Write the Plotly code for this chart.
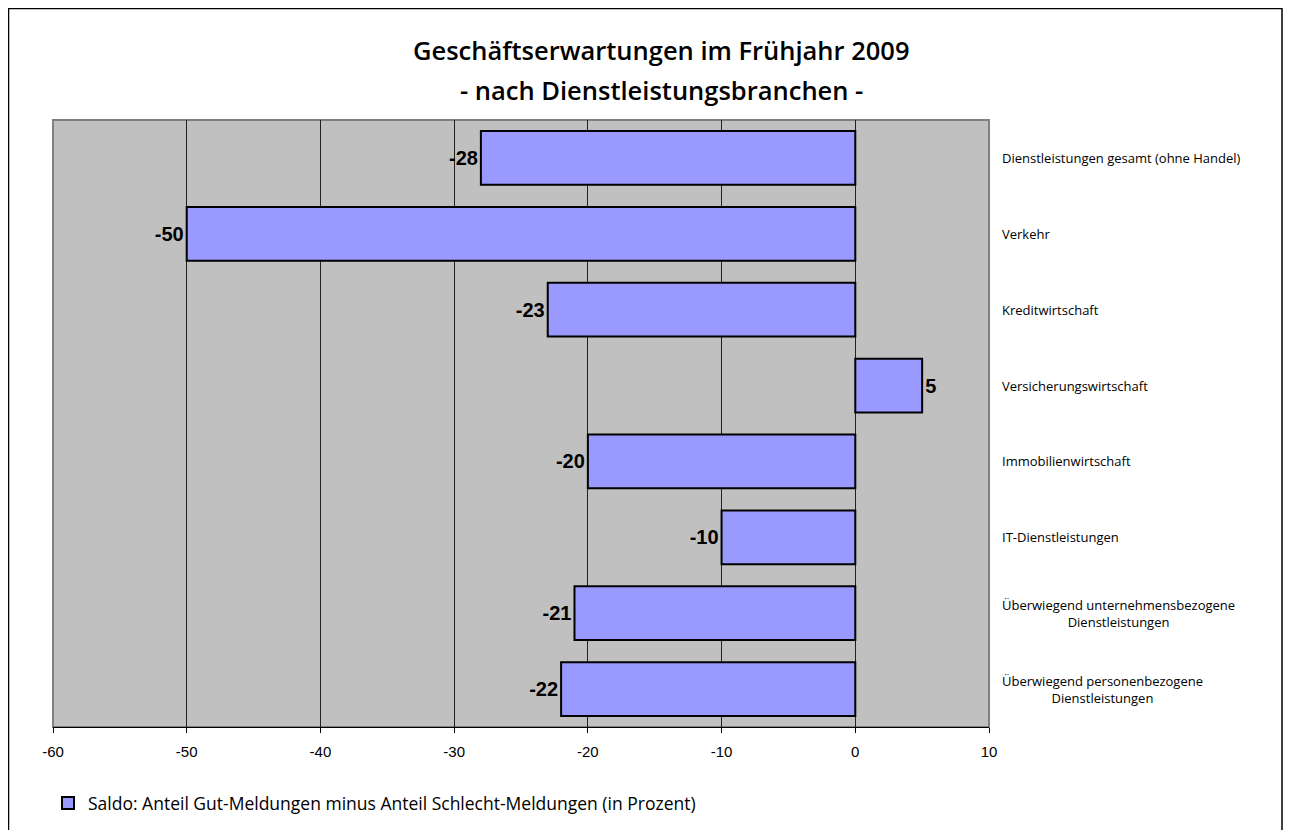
import plotly.graph_objects as go

categories = [
    "Dienstleistungen gesamt (ohne Handel)",
    "Verkehr",
    "Kreditwirtschaft",
    "Versicherungswirtschaft",
    "Immobilienwirtschaft",
    "IT-Dienstleistungen",
    "Überwiegend unternehmensbezogene<br>Dienstleistungen",
    "Überwiegend personenbezogene<br>Dienstleistungen",
]
values = [-28, -50, -23, 5, -20, -10, -21, -22]
x_ticks = [-60, -50, -40, -30, -20, -10, 0, 10]
series_name = "Saldo: Anteil Gut-Meldungen minus Anteil Schlecht-Meldungen (in Prozent)"
title_line1 = "Geschäftserwartungen im Frühjahr 2009"
title_line2 = "- nach Dienstleistungsbranchen -"

# figure coordinates (page body adds an 8px offset)
W, H = 1283, 822
L, R, T, B = 45, 981, 112, 719
pw, ph = R - L, B - T

def px(x):
    return (x - L) / pw

def py(y):
    return (B - y) / ph

fig = go.Figure()
fig.add_trace(go.Bar(
    x=values, y=categories, orientation="h", name=series_name,
    marker=dict(color="#9999FF", line=dict(color="black", width=2)),
    text=[str(v) for v in values], textposition="outside",
    textfont=dict(family="Liberation Sans, Arial", size=20, color="black"),
    texttemplate="<b>%{text}</b>", cliponaxis=False,
))

annotations = [
    dict(text=title_line1, x=px(653), y=py(42), xref="paper", yref="paper",
         showarrow=False, xanchor="center", yanchor="middle",
         font=dict(family="Open Sans", size=25.5, weight=600, color="black")),
    dict(text=title_line2, x=px(653), y=py(82), xref="paper", yref="paper",
         showarrow=False, xanchor="center", yanchor="middle",
         font=dict(family="Open Sans", size=25.5, weight=600, color="black")),
]
for c in categories:
    annotations.append(dict(text=c, x=px(992), y=c, xref="paper", yref="y",
                            showarrow=False, xanchor="left", yanchor="middle", align="center",
                            font=dict(family="Open Sans", size=13, color="black")))

shapes = [
    dict(type="rect", xref="paper", yref="paper", x0=px(0.5), x1=px(1274), y0=py(845), y1=py(0.5),
         line=dict(color="black", width=1.5), fillcolor="rgba(0,0,0,0)", layer="below"),
    dict(type="rect", xref="paper", yref="paper", x0=0, x1=1, y0=0, y1=1,
         line=dict(color="#808080", width=2), fillcolor="rgba(0,0,0,0)", layer="below"),
]

fig.update_layout(
    width=W, height=H,
    margin=dict(l=L, r=W - R, t=T, b=H - B, autoexpand=False),
    paper_bgcolor="white", plot_bgcolor="#C0C0C0",
    bargap=0.29,
    showlegend=True,
    legend=dict(orientation="h", x=px(40), y=py(795), xanchor="left", yanchor="middle",
                font=dict(family="Open Sans", size=17.5, color="black"),
                bgcolor="rgba(0,0,0,0)", itemwidth=30),
    annotations=annotations,
    shapes=shapes,
    xaxis=dict(range=[-60, 10], tickvals=x_ticks, ticktext=[str(t) for t in x_ticks],
               showgrid=True, gridcolor="#222222", gridwidth=1, zeroline=False,
               showline=True, linecolor="black", linewidth=1,
               ticks="outside", ticklen=5, tickcolor="black", ticklabelstandoff=6,
               tickfont=dict(family="Liberation Sans, Arial", size=15, color="black")),
    yaxis=dict(autorange="reversed", showticklabels=False, showgrid=False, zeroline=False,
               showline=False, ticks=""),
)

fig.write_html("out.html")
